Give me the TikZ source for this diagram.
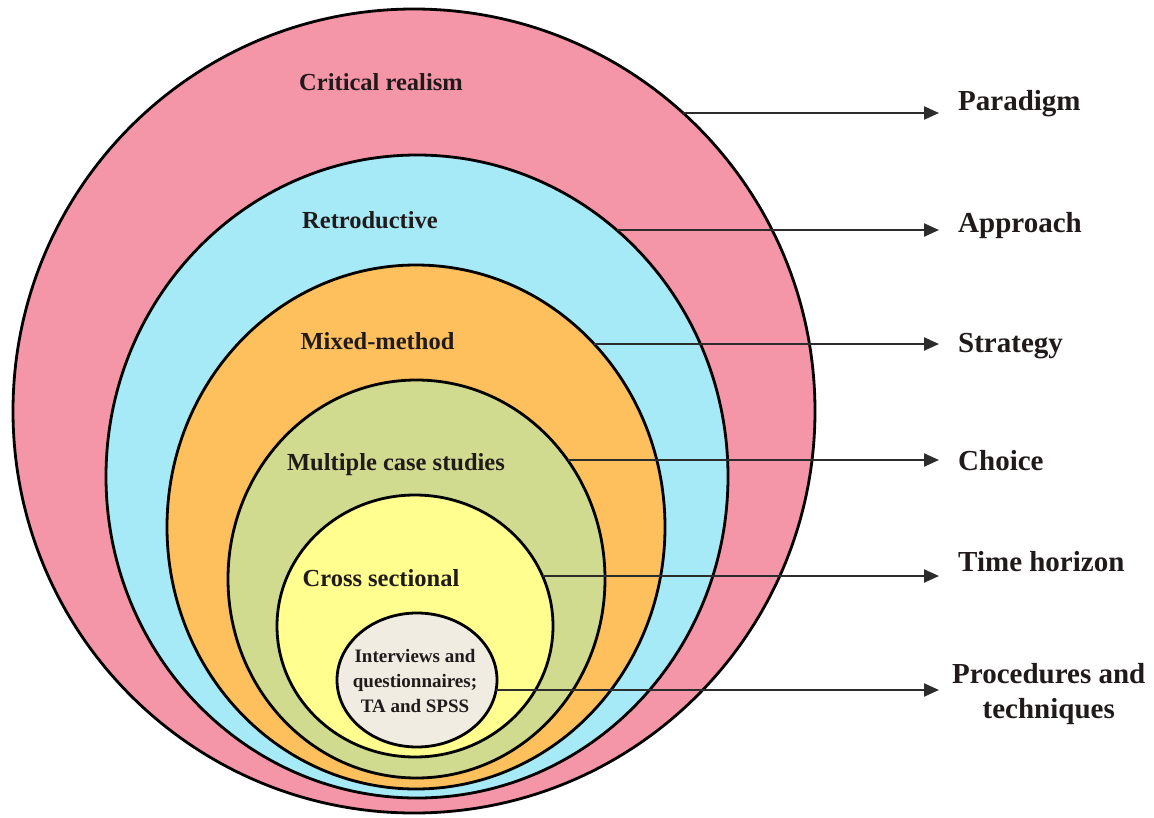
\documentclass[tikz,border=0pt]{standalone}
\usepackage{fontspec}
\setmainfont{Liberation Serif}
\usetikzlibrary{shapes.geometric,arrows.meta,calc}

\definecolor{ringpink}{RGB}{245,150,168}
\definecolor{ringblue}{RGB}{166,234,248}
\definecolor{ringorange}{RGB}{253,192,92}
\definecolor{ringgreen}{RGB}{208,219,143}
\definecolor{ringyellow}{RGB}{255,254,143}
\definecolor{ringcore}{RGB}{240,236,226}
\definecolor{labeltext}{RGB}{32,26,26}
\definecolor{linegray}{RGB}{44,44,44}

\begin{document}
\begin{tikzpicture}[x=1pt,y=-1pt,
  ring/.style={ellipse,draw=black,line width=2.8pt,inner sep=0pt},
  layer/.style={font=\fontsize{24.5}{28}\selectfont\bfseries,text=labeltext,anchor=base,inner sep=0pt},
  tag/.style={font=\fontsize{29}{35}\selectfont\bfseries,text=labeltext,anchor=base west,inner xsep=19pt,inner ysep=0pt},
  conn/.style={draw=linegray,line width=2.2pt,-{Triangle[length=15pt,width=13pt]}}]
\useasboundingbox (0,0) rectangle (1154,817);

% nested layers of the research onion
\node[ring,fill=ringpink,  minimum width=802pt,minimum height=804pt] (paradigmRing) at (414,411)   {};
\node[ring,fill=ringblue,  minimum width=622pt,minimum height=643pt] (approachRing) at (417,476.5) {};
\node[ring,fill=ringorange,minimum width=498pt,minimum height=524pt] (strategyRing) at (416,527)   {};
\node[ring,fill=ringgreen, minimum width=377pt,minimum height=398pt] (choiceRing)   at (416.5,579) {};
\node[ring,fill=ringyellow,minimum width=276pt,minimum height=262pt] (timeRing)     at (415,626)   {};
\node[ring,fill=ringcore,  minimum width=160pt,minimum height=134pt] (coreRing)     at (417,680)   {};

% layer contents
\node[layer] (realism)  at (381,90)    {Critical realism};
\node[layer] (retro)    at (370,228)   {Retroductive};
\node[layer] (mixed)    at (377.5,349) {Mixed-method};
\node[layer] (cases)    at (396,470)   {Multiple case studies};
\node[layer] (cross)    at (381,586)   {Cross sectional};
\node[font=\fontsize{19}{25}\selectfont\bfseries,text=labeltext,align=center,inner sep=0pt]
  (tools) at (415,681) {Interviews and\\questionnaires;\\TA and SPSS};

% points where each pointer leaves its layer
\coordinate (pE) at ($(paradigmRing.center)+({401*sqrt(1-(298/402)^2)},-298)$);
\coordinate (aE) at ($(approachRing.center)+({311*sqrt(1-(246.5/321.5)^2)},-246.5)$);
\coordinate (sE) at ($(strategyRing.center)+({249*sqrt(1-(183/262)^2)},-183)$);
\coordinate (cE) at ($(choiceRing.center)+({188.5*sqrt(1-(119/199)^2)},-119)$);
\coordinate (tE) at ($(timeRing.center)+({138*sqrt(1-(50/131)^2)},-50)$);
\coordinate (rE) at ($(coreRing.center)+({80*sqrt(1-(10/67)^2)},10)$);

% layer names
\node[tag] (paradigm) at (939,110) {Paradigm};
\node[tag] (approach) at (939,232) {Approach};
\node[tag] (strategy) at (939,352) {Strategy};
\node[tag] (choice)   at (939,470) {Choice};
\node[tag] (horizon)  at (939,571) {Time horizon};
\node[font=\fontsize{29}{35}\selectfont\bfseries,text=labeltext,align=center,anchor=west,
      inner xsep=13pt,inner ysep=0pt] (procedures) at (939,694) {Procedures and\\techniques};

% pointers
\draw[conn] (pE) -- (pE -| paradigm.west);
\draw[conn] (aE) -- (aE -| approach.west);
\draw[conn] (sE) -- (sE -| strategy.west);
\draw[conn] (cE) -- (cE -| choice.west);
\draw[conn] (tE) -- (tE -| horizon.west);
\draw[conn] (rE) -- (rE -| procedures.west);
\end{tikzpicture}
\end{document}
